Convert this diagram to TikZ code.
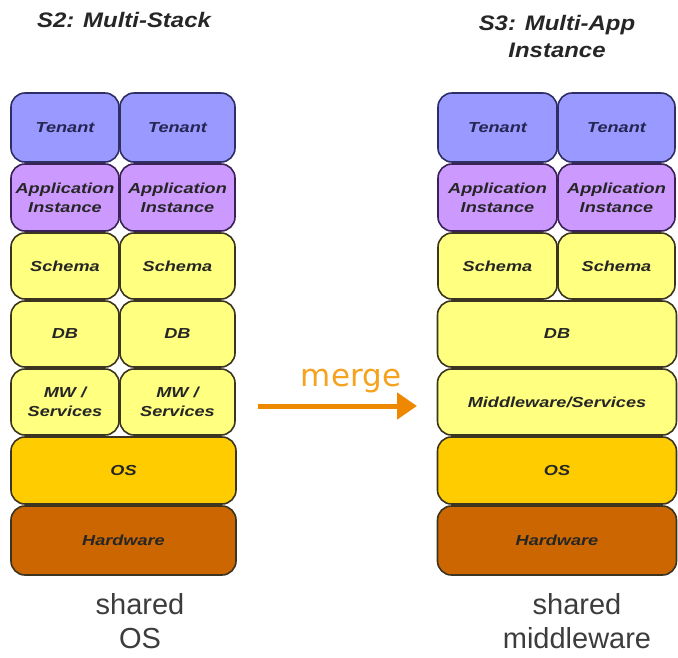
\documentclass[tikz,border=0pt]{standalone}
\usepackage{fontspec}
\setmainfont{Liberation Sans}
\newfontfamily\mergefont{DejaVu Sans}
\usetikzlibrary{arrows.meta}

\definecolor{tenantfill}{HTML}{9999FF}
\definecolor{tenantline}{HTML}{2E2E66}
\definecolor{appfill}{HTML}{CC99FF}
\definecolor{appline}{HTML}{3A2255}
\definecolor{midfill}{HTML}{FFFF80}
\definecolor{osfill}{HTML}{FFCC00}
\definecolor{hwfill}{HTML}{CC6600}
\definecolor{layerline}{HTML}{3A3420}
\definecolor{arroworange}{HTML}{EE8800}
\definecolor{mergeorange}{HTML}{F5A21E}
\definecolor{captiongray}{HTML}{3C3C3C}

\tikzset{
  layer/.style={draw=layerline, line width=1.6pt, rounded corners=14pt,
    inner sep=0pt, align=center, text=black!85,
    font=\fontsize{14.5}{19}\selectfont\bfseries\itshape},
  tenant/.style={layer, fill=tenantfill, draw=tenantline, text=tenantline!80!black},
  appinst/.style={layer, fill=appfill, draw=appline},
  midlayer/.style={layer, fill=midfill},
  oslayer/.style={layer, fill=osfill},
  hwlayer/.style={layer, fill=hwfill},
  title/.style={font=\fontsize{21}{27}\selectfont\bfseries\itshape, text=black!85, align=center},
  caption/.style={font=\fontsize{29}{34}\selectfont, text=captiongray, align=center},
}
% horizontally widened lettering for the layer labels and titles
\newcommand{\wide}[1]{\scalebox{1.25}[1]{#1}}
\newcommand{\widetitle}[1]{\scalebox{1.14}[1]{#1}}

\begin{document}
\begin{tikzpicture}[x=1pt, y=-1pt]
\useasboundingbox (0,0) rectangle (678,657);

% ---- S2: multi-stack ----
\node[title] (t2) at (124,20) {\widetitle{S2: Multi-Stack}};

\node[tenant, minimum width=108pt, minimum height=69pt] (l-ten1) at (65,127.5) {\wide{Tenant}};
\node[tenant, minimum width=115pt, minimum height=69pt] (l-ten2) at (177.5,127.5) {\wide{Tenant}};
\node[appinst, minimum width=108pt, minimum height=67pt] (l-app1) at (65,197.5) {\wide{Application}\\\wide{Instance}};
\node[appinst, minimum width=115pt, minimum height=67pt] (l-app2) at (177.5,197.5) {\wide{Application}\\\wide{Instance}};
\node[midlayer, minimum width=108pt, minimum height=66pt] (l-sch1) at (65,266) {\wide{Schema}};
\node[midlayer, minimum width=115pt, minimum height=66pt] (l-sch2) at (177.5,266) {\wide{Schema}};
\node[midlayer, minimum width=108pt, minimum height=66pt] (l-db1) at (65,334) {\wide{DB}};
\node[midlayer, minimum width=115pt, minimum height=66pt] (l-db2) at (177.5,334) {\wide{DB}};
\node[midlayer, minimum width=108pt, minimum height=66pt] (l-mw1) at (65,402) {\wide{MW /}\\\wide{Services}};
\node[midlayer, minimum width=115pt, minimum height=66pt] (l-mw2) at (177.5,402) {\wide{MW /}\\\wide{Services}};
\node[oslayer, minimum width=225pt, minimum height=67pt] (l-os) at (123.5,470.5) {\wide{OS}};
\node[hwlayer, minimum width=225pt, minimum height=69pt] (l-hw) at (123.5,540.5) {\wide{Hardware}};

\node[caption] (c2) at (140,621) {shared\\OS};

% ---- S3: multi-app instance ----
\node[title] (t3) at (557,36) {\widetitle{S3: Multi-App}\\\widetitle{Instance}};

\node[tenant, minimum width=119pt, minimum height=69pt] (r-ten1) at (497.5,127.5) {\wide{Tenant}};
\node[tenant, minimum width=117pt, minimum height=69pt] (r-ten2) at (616.5,127.5) {\wide{Tenant}};
\node[appinst, minimum width=119pt, minimum height=67pt] (r-app1) at (497.5,197.5) {\wide{Application}\\\wide{Instance}};
\node[appinst, minimum width=117pt, minimum height=67pt] (r-app2) at (616.5,197.5) {\wide{Application}\\\wide{Instance}};
\node[midlayer, minimum width=119pt, minimum height=66pt] (r-sch1) at (497.5,266) {\wide{Schema}};
\node[midlayer, minimum width=117pt, minimum height=66pt] (r-sch2) at (616.5,266) {\wide{Schema}};
\node[midlayer, minimum width=239pt, minimum height=66pt] (r-db) at (557,334) {\wide{DB}};
\node[midlayer, minimum width=239pt, minimum height=66pt] (r-mw) at (557,402) {\wide{Middleware/Services}};
\node[oslayer, minimum width=239pt, minimum height=67pt] (r-os) at (557,470.5) {\wide{OS}};
\node[hwlayer, minimum width=239pt, minimum height=69pt] (r-hw) at (557,540.5) {\wide{Hardware}};

\node[caption] (c3) at (577,621) {shared\\middleware};

% ---- merge arrow ----
\coordinate (m-from) at (258,406);
\coordinate (m-to) at (417,406);
\draw[arroworange, line width=5pt, -{Triangle[length=20pt,width=26pt]}] (m-from) -- (m-to);
\node[font=\mergefont\fontsize{31}{34}\selectfont, text=mergeorange] (mlabel) at (351,381) {merge};
\end{tikzpicture}
\end{document}
